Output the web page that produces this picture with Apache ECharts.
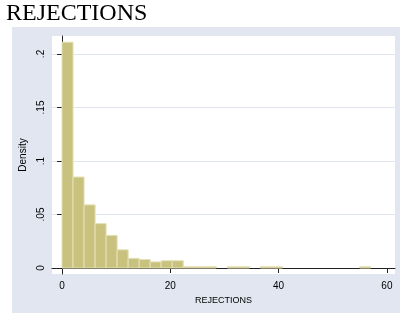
<!DOCTYPE html>
<html>
<head>
<meta charset="utf-8">
<script src="https://cdn.jsdelivr.net/npm/echarts@6/dist/echarts.min.js"></script>
<style>
  html, body { margin: 0; padding: 0; background: #fff; }
  #chart { width: 400px; height: 318px; }
</style>
</head>
<body>
<div id="chart"></div>
<script>
// histogram of REJECTIONS: 28 bins over 0..57
const binCount = 28
const binMax = 57
const density = [
  0.211, 0.085, 0.059, 0.0415, 0.0305, 0.017, 0.009, 0.008, 0.0057, 0.0068,
  0.0068, 0.0012, 0.0012, 0.0012, 0, 0.0012, 0.0012, 0, 0.0012, 0.0012,
  0, 0, 0, 0, 0, 0, 0, 0.0012,
]
const xTicks = [0, 20, 40, 60]
const yTicks = [0, 0.05, 0.1, 0.15, 0.2]

const binWidth = binMax / binCount
const bars = density.map((d, i) => [i * binWidth, (i + 1) * binWidth, d])

const chart = echarts.init(document.getElementById('chart'))

chart.setOption({
  animation: false,
  backgroundColor: '#fff',
  title: {
    text: 'REJECTIONS',
    left: 1,
    top: -3,
    textStyle: { fontFamily: 'Liberation Serif', fontSize: 24, fontWeight: 'normal', color: '#000' },
  },
  graphic: [
    {
      type: 'rect',
      z: -10,
      shape: { x: 12, y: 27, width: 388, height: 286 },
      style: { fill: '#e2e6f0' },
    },
  ],
  grid: {
    left: 52, right: 5, top: 36, bottom: 44,
    show: true, backgroundColor: '#fff', borderWidth: 0,
  },
  xAxis: {
    type: 'value',
    min: -1.85,
    max: 61.5,
    name: 'REJECTIONS',
    nameLocation: 'middle',
    nameGap: 16,
    nameTextStyle: { fontFamily: 'Liberation Sans', fontSize: 9, color: '#000' },
    axisLine: { show: true, lineStyle: { color: '#222', width: 1 } },
    axisTick: { show: true, length: 5, customValues: xTicks, lineStyle: { color: '#222' } },
    axisLabel: {
      customValues: xTicks,
      margin: 7,
      fontFamily: 'Liberation Sans', fontSize: 10, color: '#000',
    },
    splitLine: { show: false },
  },
  yAxis: {
    type: 'value',
    min: -0.0056,
    max: 0.2168,
    name: 'Density',
    nameLocation: 'middle',
    nameRotate: 90,
    nameGap: 18,
    nameTextStyle: { fontFamily: 'Liberation Sans', fontSize: 10, color: '#000' },
    axisLine: { show: true, lineStyle: { color: '#222', width: 1 } },
    axisTick: { show: true, length: 5, customValues: yTicks, lineStyle: { color: '#222' } },
    axisLabel: {
      customValues: yTicks,
      rotate: 90,
      margin: 6,
      fontFamily: 'Liberation Sans', fontSize: 10, color: '#000',
      formatter: (v) => (v === 0 ? '0' : String(v).replace(/^0/, '')),
    },
    splitLine: { show: true, lineStyle: { color: '#e0e4ef', width: 1 } },
  },
  series: [
    {
      type: 'custom',
      data: bars,
      encode: { x: [0, 1], y: 2 },
      renderItem: (params, api) => {
        const h = api.value(2)
        if (!h) return null
        const p0 = api.coord([api.value(0), h])
        const p1 = api.coord([api.value(1), 0])
        return {
          type: 'rect',
          shape: { x: p0[0], y: p0[1], width: p1[0] - p0[0], height: p1[1] - p0[1] },
          style: { fill: '#c9c27f', stroke: '#e4e0b6', lineWidth: 1 },
        }
      },
    },
  ],
})
</script>
</body>
</html>
